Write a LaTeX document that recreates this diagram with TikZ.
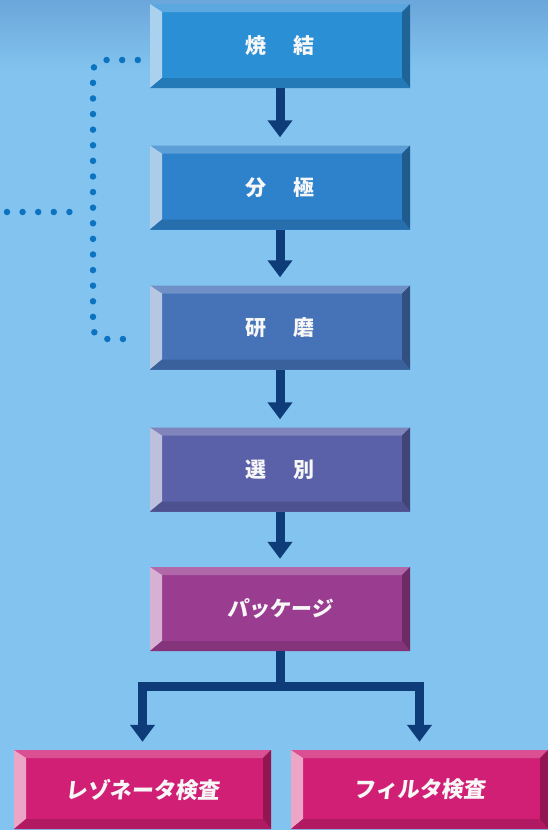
\documentclass[tikz,border=0pt]{standalone}
\usepackage{fontspec}
\newfontfamily\jp{Noto Sans CJK JP}
\newfontfamily\jpsl{Noto Sans CJK JP}[FakeSlant=0.12]
\usetikzlibrary{arrows.meta}
\definecolor{bgblue}{HTML}{82C3EF}
\definecolor{bgtop}{HTML}{6BA7DA}
\definecolor{navy}{HTML}{0D3C78}
\definecolor{dotblue}{HTML}{0B73C0}
\definecolor{cA}{HTML}{2B8FD6}
\definecolor{cB}{HTML}{2E82CB}
\definecolor{cC}{HTML}{4672B7}
\definecolor{cD}{HTML}{5B61A8}
\definecolor{cE}{HTML}{9A3D91}
\definecolor{cF}{HTML}{D01F74}
\newcommand\bevelparts[1]{%
  \path (path picture bounding box.north west) coordinate (pNW)
        (path picture bounding box.north east) coordinate (pNE)
        (path picture bounding box.south west) coordinate (pSW)
        (path picture bounding box.south east) coordinate (pSE);
  \fill[#1!78!white] (pNW) -- (pNE) -- ([xshift=-8pt,yshift=-8pt]pNE) -- ([xshift=12pt,yshift=-8pt]pNW) -- cycle;
  \fill[#1!40!white] (pNW) -- ([xshift=12pt,yshift=-8pt]pNW) -- ([xshift=12pt,yshift=10pt]pSW) -- (pSW) -- cycle;
  \fill[#1!70!black] (pNE) -- (pSE) -- ([xshift=-8pt,yshift=10pt]pSE) -- ([xshift=-8pt,yshift=-8pt]pNE) -- cycle;
  \fill[#1!85!black] (pSW) -- ([xshift=12pt,yshift=10pt]pSW) -- ([xshift=-8pt,yshift=10pt]pSE) -- (pSE) -- cycle;
}
\tikzset{
  bbox/.style={fill=#1, inner sep=0pt, minimum width=260pt, minimum height=84pt,
    text=white!94!gray, font=\jp\bfseries\fontsize{21pt}{24pt}\selectfont,
    path picture={\bevelparts{#1}}},
  lowbox/.style={bbox=#1, minimum width=257pt, minimum height=79pt,
    font=\jpsl\bfseries\fontsize{22pt}{24pt}\selectfont},
  flow/.style={draw=navy, line width=9pt, line join=miter,
    -{Triangle[width=24pt,length=17pt]}},
  dotline/.style={draw=dotblue, line width=6.5pt, line cap=round,
    dash pattern=on 0pt off 15.6pt}
}
\begin{document}
\begin{tikzpicture}[x=1pt,y=-1pt]
\useasboundingbox (0,0) rectangle (548,830);
\fill[bgblue] (0,0) rectangle (548,830);
\shade[top color=bgtop, bottom color=bgblue] (0,0) rectangle (548,70);

\node[bbox=cA] (b1) at (280,46) {焼\hspace{28pt}結};
\node[bbox=cB] (b2) at (280,187.5) {分\hspace{28pt}極};
\node[bbox=cC] (b3) at (280,327.5) {研\hspace{28pt}磨};
\node[bbox=cD] (b4) at (280,469.5) {選\hspace{28pt}別};
\node[bbox=cE, font=\jpsl\bfseries\fontsize{21pt}{24pt}\selectfont] (b5) at (280,609) {パッケージ};
\node[lowbox=cF] (b6) at (142.5,789.5) {レゾネータ検査};
\node[lowbox=cF] (b7) at (419.5,789.5) {フィルタ検査};

\draw[flow] (b1.south) -- ([yshift=8pt]b2.north);
\draw[flow] (b2.south) -- ([yshift=8pt]b3.north);
\draw[flow] (b3.south) -- ([yshift=8pt]b4.north);
\draw[flow] (b4.south) -- ([yshift=8pt]b5.north);

\coordinate (split) at (280,686);
\draw[flow] (b5.south) -- (split) -| ([yshift=8pt]b6.north);
\draw[flow] (b5.south) -- (split) -| ([yshift=8pt]b7.north);

\coordinate (vline) at (93,212);
\coordinate (lft) at (7,212);
\draw[dotline, rounded corners=12pt] ([xshift=-12pt,yshift=-14pt]b1.west) -- (93,60) -- (93,339) -- ([xshift=-12pt,yshift=-11.5pt]b3.west);
\draw[dotline] (lft) -- ([xshift=-22pt]vline);
\end{tikzpicture}
\end{document}
